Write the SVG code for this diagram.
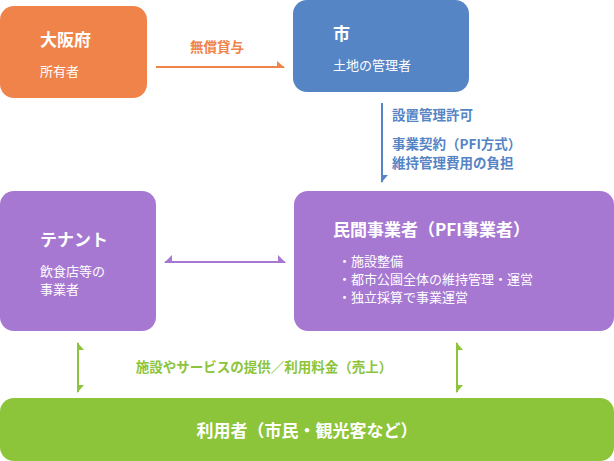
<svg xmlns="http://www.w3.org/2000/svg" width="614" height="461" viewBox="0 0 614 461">
<style>
text{font-family:"Noto Sans CJK JP","Noto Sans",sans-serif;fill:#fff}
.b{font-weight:bold;font-size:17px}
.s{font-size:13px}
.l{font-weight:bold;font-size:13.5px}
</style>
<rect width="614" height="461" fill="#fff"/>
<g id="osaka"><rect x="0" y="6" width="147" height="92" rx="14" fill="#ef834a"/>
<text class="b" x="40" y="46">大阪府</text><text class="s" x="40" y="76">所有者</text></g>
<g id="city"><rect x="293" y="0" width="176" height="92" rx="14" fill="#5585c5"/>
<text class="b" x="333" y="40">市</text><text class="s" x="333" y="70">土地の管理者</text></g>
<g id="tenant"><rect x="0" y="191" width="156" height="140" rx="14" fill="#a678d2"/>
<text class="b" x="40" y="246">テナント</text><text class="s" x="40" y="276">飲食店等の</text><text class="s" x="40" y="294">事業者</text></g>
<g id="private"><rect x="294" y="191" width="320" height="140" rx="14" fill="#a678d2"/>
<text class="b" x="333" y="236">民間事業者（PFI事業者）</text>
<text class="s" x="338" y="266">・施設整備</text><text class="s" x="338" y="284">・都市公園全体の維持管理・運営</text><text class="s" x="338" y="302">・独立採算で事業運営</text></g>
<g id="users"><rect x="0" y="398" width="614" height="63" rx="14" fill="#8cc43a"/>
<text class="b" x="307" y="437" text-anchor="middle">利用者（市民・観光客など）</text></g>
<g id="connectors">
<path d="M156 67H284" stroke="#ef834a" stroke-width="2" fill="none"/><path d="M277 61L285 68H277Z" fill="#ef834a"/>
<text class="l" x="217" y="52" text-anchor="middle" style="fill:#ef834a">無償貸与</text>
<path d="M382 103V182" stroke="#5585c5" stroke-width="2" fill="none"/><path d="M381 175L381 183L388 175Z" fill="#5585c5"/>
<text class="l" x="392" y="120" style="fill:#5585c5">設置管理許可</text>
<text class="l" x="392" y="149" style="fill:#5585c5">事業契約（PFI方式）</text>
<text class="l" x="392" y="168" style="fill:#5585c5">維持管理費用の負担</text>
<path d="M165 262H285" stroke="#a678d2" stroke-width="2" fill="none"/>
<path d="M164 263L172 255V263Z" fill="#a678d2"/><path d="M286 263L278 255V263Z" fill="#a678d2"/>
<path d="M78 343V392M457 343V392" stroke="#8cc43a" stroke-width="2" fill="none"/>
<path d="M77 342L84 350H77Z M77 393L84 385H77Z M456 342L463 350H456Z M456 393L463 385H456Z" fill="#8cc43a"/>
<text class="l" x="264" y="372" text-anchor="middle" style="fill:#8cc43a">施設やサービスの提供／利用料金（売上）</text>
</g>
</svg>
